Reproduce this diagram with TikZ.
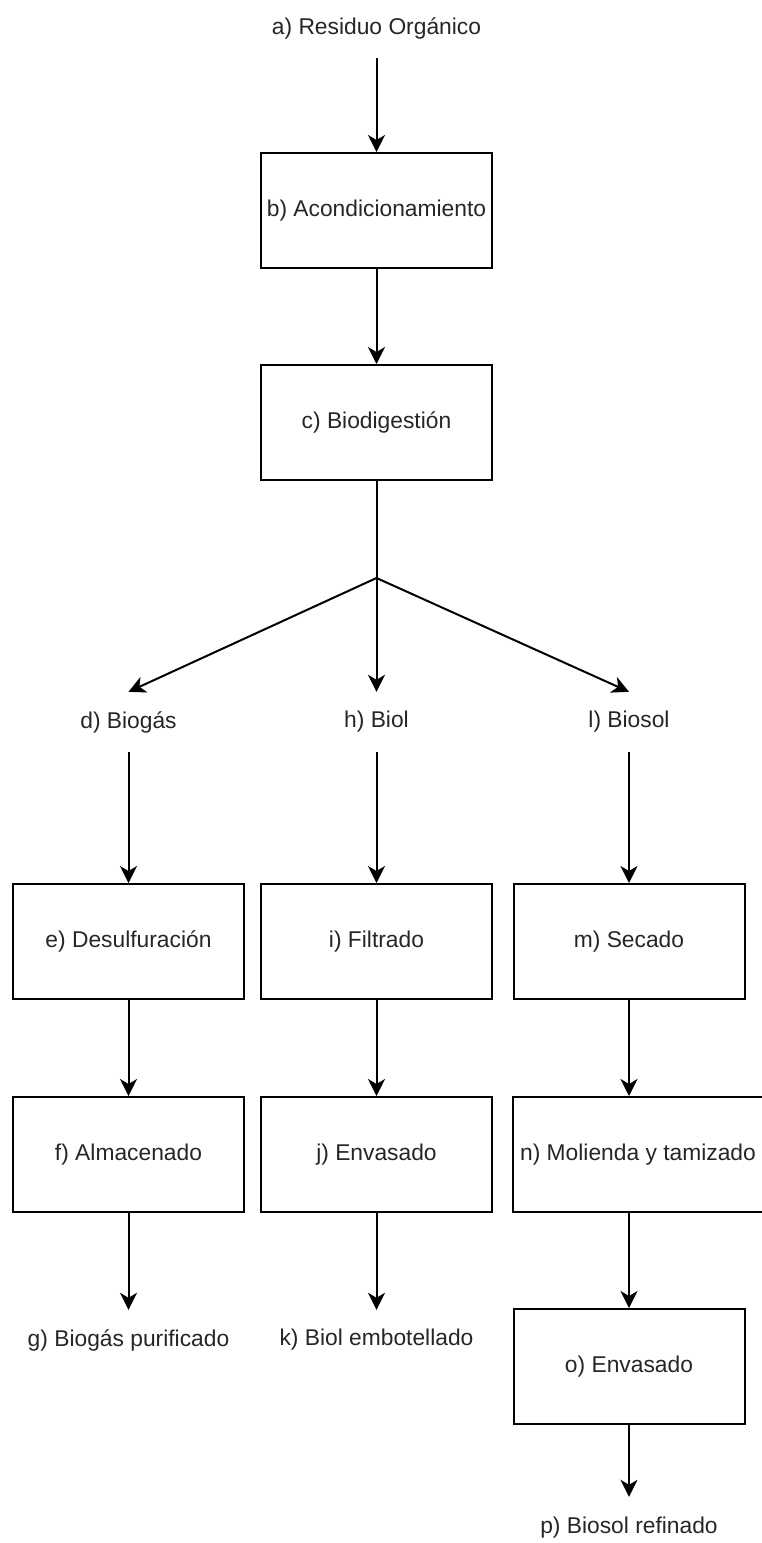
\documentclass[tikz,border=0pt]{standalone}
\usepackage{fontspec}
\setmainfont{Liberation Sans}
\usetikzlibrary{arrows.meta}

\begin{document}
\begin{tikzpicture}[x=1pt, y=-1pt,
    box/.style={draw, line width=2pt, minimum width=231pt, minimum height=115pt, inner sep=0pt},
    lbl/.style={minimum height=60pt, inner sep=0pt},
    flow/.style={line width=2pt, -{Stealth[length=17pt, width=17pt, inset=5pt]}},
    every node/.style={font=\fontsize{22.8}{27}\selectfont, text=black!85}]
      \useasboundingbox (0,0) rectangle (762,1543);
      \node[lbl] (a) at (376.5,28) {a) Residuo Orgánico};
      \node[box] (b) at (376.5,210.5) {b) Acondicionamiento};
      \node[box] (c) at (376.5,422.5) {c) Biodigestión};
      \coordinate (fork) at (376.5,578);
      \node[lbl] (d) at (128.5,722) {d) Biogás};
      \node[lbl] (h) at (376.5,722) {h) Biol};
      \node[lbl] (l) at (629,722) {l) Biosol};
      \node[box] (e) at (128.5,941.5) {e) Desulfuración};
      \node[box] (i) at (376.5,941.5) {i) Filtrado};
      \node[box] (m) at (629,941.5) {m) Secado};
      \node[box] (f) at (128.5,1154.5) {f) Almacenado};
      \node[box] (j) at (376.5,1154.5) {j) Envasado};
      \node[box, minimum width=250pt] (n) at (638,1154.5) {n) Molienda y tamizado};
      \node[lbl] (g) at (128.5,1340) {g) Biogás purificado};
      \node[lbl] (k) at (376.5,1340) {k) Biol embotellado};
      \node[box] (o) at (629,1366.5) {o) Envasado};
      \node[lbl, minimum height=62pt] (p) at (629,1528) {p) Biosol refinado};
      \draw[flow] (a) -- (b);
      \draw[flow] (b) -- (c);
      \draw[line width=2pt] (c) -- (fork);
      \foreach \t in {d,h,l} {
        \draw[flow] (fork) -- (\t.north);
      }
      \foreach \s/\t in {d/e, e/f, f/g, h/i, i/j, j/k, l/m, o/p} {
        \draw[flow] (\s) -- (\t);
      }
      \draw[flow] (m) -- (m |- n.north);
      \draw[flow] (o |- n.south) -- (o);
    \end{tikzpicture}
\end{document}
